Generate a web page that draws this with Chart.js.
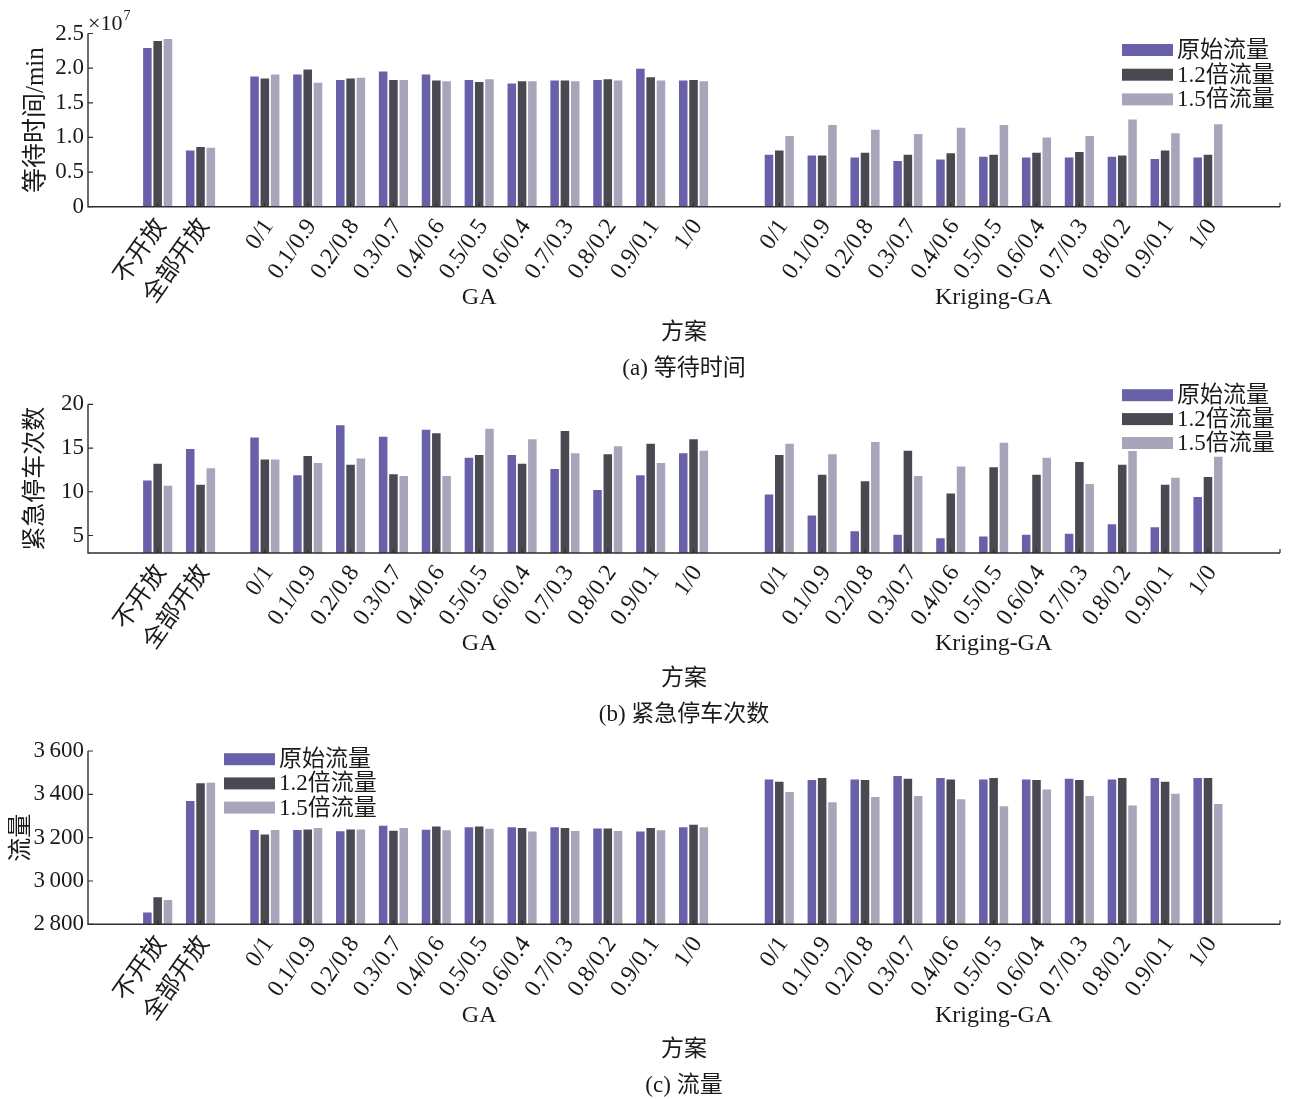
<!DOCTYPE html>
<html lang="zh">
<head>
<meta charset="utf-8">
<title>不同方案下的等待时间、紧急停车次数与流量</title>
<script src="https://cdn.jsdelivr.net/npm/chart.js@4.4.1/dist/chart.umd.min.js"></script>
<style>
  html, body { margin: 0; padding: 0; background: #fff; }
  #page { position: relative; width: 1289px; height: 1099px; overflow: hidden; background: #fff; }
  #page canvas { position: absolute; left: 0; }
</style>
</head>
<body>
<div id="page">
  <canvas id="chartWait"></canvas>
  <canvas id="chartStops"></canvas>
  <canvas id="chartFlow"></canvas>
</div>
<script>
// ---- categories ----
const baselineSchemes = ['不开放', '全部开放'];
const weightSchemes = ['0/1', '0.1/0.9', '0.2/0.8', '0.3/0.7', '0.4/0.6', '0.5/0.5',
                       '0.6/0.4', '0.7/0.3', '0.8/0.2', '0.9/0.1', '1/0'];
const methods = ['GA', 'Kriging-GA'];
const seriesNames = ['原始流量', '1.2倍流量', '1.5倍流量'];

// ---- values: 2 baselines, then the GA sweep, then the Kriging-GA sweep ----
// (a) waiting time, unit 10^7 min
const waitOriginal = [2.29, 0.81,
  1.88, 1.91, 1.83, 1.95, 1.91, 1.83, 1.78, 1.82, 1.83, 1.99, 1.82,
  0.75, 0.74, 0.71, 0.66, 0.68, 0.72, 0.71, 0.71, 0.72, 0.69, 0.71];
const waitX12 = [2.39, 0.86,
  1.85, 1.98, 1.85, 1.83, 1.82, 1.80, 1.81, 1.82, 1.84, 1.87, 1.83,
  0.81, 0.74, 0.78, 0.75, 0.77, 0.75, 0.78, 0.79, 0.74, 0.81, 0.75];
const waitX15 = [2.42, 0.85,
  1.91, 1.79, 1.86, 1.83, 1.81, 1.84, 1.81, 1.81, 1.82, 1.82, 1.81,
  1.02, 1.18, 1.11, 1.05, 1.14, 1.18, 1.00, 1.02, 1.26, 1.06, 1.19];

// (b) emergency stops
const stopOriginal = [11.3, 14.9,
  16.2, 11.9, 17.6, 16.3, 17.1, 13.9, 14.2, 12.6, 10.2, 11.9, 14.4,
  9.7, 7.3, 5.5, 5.1, 4.7, 4.9, 5.1, 5.2, 6.3, 5.95, 9.4];
const stopX12 = [13.2, 10.8,
  13.7, 14.1, 13.1, 12.0, 16.7, 14.2, 13.2, 16.95, 14.3, 15.5, 16.0,
  14.2, 11.95, 11.2, 14.7, 9.8, 12.8, 11.95, 13.4, 13.1, 10.8, 11.7];
const stopX15 = [10.7, 12.7,
  13.7, 13.3, 13.8, 11.8, 11.8, 17.2, 16.0, 14.4, 15.2, 13.3, 14.7,
  15.5, 14.3, 15.7, 11.8, 12.9, 15.6, 13.9, 10.9, 14.7, 11.6, 14.0];

// (c) flow
const flowOriginal = [2854, 3369,
  3235, 3235, 3229, 3255, 3237, 3248, 3248, 3248, 3242, 3228, 3248,
  3469, 3466, 3469, 3485, 3475, 3469, 3469, 3472, 3469, 3475, 3475];
const flowX12 = [2925, 3451,
  3215, 3238, 3238, 3232, 3252, 3252, 3245, 3245, 3242, 3245, 3260,
  3458, 3475, 3466, 3472, 3469, 3475, 3466, 3466, 3475, 3458, 3475];
const flowX15 = [2912, 3454,
  3235, 3245, 3238, 3245, 3234, 3241, 3228, 3231, 3231, 3234, 3248,
  3411, 3363, 3388, 3392, 3377, 3345, 3422, 3392, 3348, 3403, 3355];

// ---- value-axis ticks ----
const waitTicks = [0, 0.5, 1.0, 1.5, 2.0, 2.5];
const stopTicks = [5, 10, 15, 20];
const flowTicks = [2800, 3000, 3200, 3400, 3600];

// ---- styling ----
const FONT = "'Liberation Serif', 'Noto Sans CJK SC', serif";
const TEXT = '#1a1a1a';
const AXIS = '#2e2e2e';
const seriesColors = ['#6861a9', '#4a4952', '#a8a5ba'];
const PLOT_LEFT = 88;
const PLOT_RIGHT = 1280;
const X_MIN = -0.625;
const X_MAX = 27.18;

// category slots along x: baseline pair, wider gap, GA sweep, wider gap, Kriging-GA sweep
const GAP_AFTER_BASELINES = 1.5;
const GAP_BETWEEN_METHODS = 2;
const xLabels = [...baselineSchemes];
const xPositions = baselineSchemes.map((_, i) => 1 + i);
const methodCenters = [];
let slot = baselineSchemes.length + GAP_AFTER_BASELINES;
methods.forEach(() => {
  weightSchemes.forEach((w, i) => { xLabels.push(w); xPositions.push(slot + i); });
  methodCenters.push(slot + (weightSchemes.length - 1) / 2);
  slot += weightSchemes.length - 1 + GAP_BETWEEN_METHODS;
});

// axes, inward tick marks, group labels, titles and legend
const decor = {
  id: 'decor',
  afterDraw(chart, _args, o) {
    const { ctx, chartArea: ca } = chart;
    const xs = chart.scales.x, ys = chart.scales.y;
    ctx.save();
    ctx.strokeStyle = AXIS;
    ctx.lineWidth = 1.4;
    ctx.beginPath();
    ctx.moveTo(ca.left, ca.top);
    ctx.lineTo(ca.left, ca.bottom);
    ctx.lineTo(ca.right, ca.bottom);
    ctx.stroke();

    ctx.lineWidth = 1.2;
    ctx.beginPath();
    xs.ticks.forEach(t => {
      const px = xs.getPixelForValue(t.value);
      ctx.moveTo(px, ca.bottom); ctx.lineTo(px, ca.bottom - 4);
    });
    ctx.moveTo(ca.right, ca.bottom); ctx.lineTo(ca.right, ca.bottom - 4);
    ys.ticks.forEach(t => {
      const py = ys.getPixelForValue(t.value);
      ctx.moveTo(ca.left, py); ctx.lineTo(ca.left + 5, py);
    });
    ctx.stroke();

    ctx.fillStyle = TEXT;
    ctx.textAlign = 'center';
    ctx.textBaseline = 'middle';
    ctx.font = `24px ${FONT}`;
    methods.forEach((m, k) => ctx.fillText(m, xs.getPixelForValue(methodCenters[k]), ca.bottom + 91));
    const midX = (ca.left + ca.right) / 2;
    ctx.font = `23px ${FONT}`;
    ctx.fillText('方案', midX, ca.bottom + 126);
    ctx.fillText(o.caption, midX, ca.bottom + 162);

    ctx.save();
    ctx.translate(o.yTitleX, (ca.top + ca.bottom) / 2);
    ctx.rotate(-Math.PI / 2);
    ctx.font = `${o.yTitleSize}px ${FONT}`;
    ctx.fillText(o.yTitle, 0, 0);
    ctx.restore();

    if (o.exponent) {
      ctx.textAlign = 'left';
      ctx.textBaseline = 'alphabetic';
      ctx.font = `22px ${FONT}`;
      const base = '×10';
      ctx.fillText(base, ca.left, ca.top - 4);
      const w = ctx.measureText(base).width;
      ctx.font = `14px ${FONT}`;
      ctx.fillText(o.exponent, ca.left + w + 1, ca.top - 14);
    }

    const L = o.legend;
    ctx.fillStyle = '#fff';
    ctx.fillRect(L.x - 3, L.y - 13, 160, L.step * 2 + 21);
    ctx.font = `23px ${FONT}`;
    ctx.textAlign = 'left';
    ctx.textBaseline = 'middle';
    chart.data.datasets.forEach((ds, i) => {
      const cy = L.y + i * L.step;
      ctx.fillStyle = ds.backgroundColor;
      ctx.fillRect(L.x, cy - 6, 51, 12);
      ctx.fillStyle = TEXT;
      ctx.fillText(ds.label, L.x + 55, cy + 1);
    });
    ctx.restore();
  }
};

const fmtWait = v => (v === 0 ? '0' : v.toFixed(1));
const fmtStops = v => String(v);
const fmtFlow = v => `${Math.floor(v / 1000)}\u2009${String(v % 1000).padStart(3, '0')}`;

// page coordinates of each panel
const panels = [
  { canvas: 'chartWait', top: 0, height: 385, plotTop: 33.5, plotBottom: 206.7,
    yMin: 0, yMax: 2.5, yTicks: waitTicks, yFormat: fmtWait,
    series: [waitOriginal, waitX12, waitX15],
    yTitle: '等待时间/min', yTitleX: 36, yTitleSize: 25, caption: '(a) 等待时间', exponent: '7',
    legend: { x: 1122, y: 50, step: 24.7 } },
  { canvas: 'chartStops', top: 372, height: 363, plotTop: 404.3, plotBottom: 553,
    yMin: 3, yMax: 20, yTicks: stopTicks, yFormat: fmtStops,
    series: [stopOriginal, stopX12, stopX15],
    yTitle: '紧急停车次数', yTitleX: 36, yTitleSize: 24, caption: '(b) 紧急停车次数', exponent: null,
    legend: { x: 1122, y: 395.2, step: 23.9 } },
  { canvas: 'chartFlow', top: 725, height: 374, plotTop: 751, plotBottom: 924.3,
    yMin: 2800, yMax: 3600, yTicks: flowTicks, yFormat: fmtFlow,
    series: [flowOriginal, flowX12, flowX15],
    yTitle: '流量', yTitleX: 22, yTitleSize: 24, caption: '(c) 流量', exponent: null,
    legend: { x: 224, y: 759.2, step: 24.2 } }
];

panels.forEach(p => {
  const canvas = document.getElementById(p.canvas);
  canvas.width = 1289;
  canvas.height = p.height;
  canvas.style.top = p.top + 'px';
  const areaTop = p.plotTop - p.top;
  const areaBottom = p.plotBottom - p.top;
  new Chart(canvas, {
    type: 'bar',
    data: {
      datasets: p.series.map((vals, i) => ({
        label: seriesNames[i],
        data: vals.map((v, j) => ({ x: xPositions[j], y: v })),
        backgroundColor: seriesColors[i],
        borderWidth: 0,
        categoryPercentage: 0.72,
        barPercentage: 0.83
      }))
    },
    options: {
      responsive: false,
      animation: false,
      devicePixelRatio: 1,
      events: [],
      layout: { padding: { top: areaTop, left: 0, right: 1289 - PLOT_RIGHT, bottom: 0 } },
      plugins: {
        legend: { display: false },
        tooltip: { enabled: false },
        decor: {
          caption: p.caption, yTitle: p.yTitle, yTitleX: p.yTitleX, yTitleSize: p.yTitleSize,
          exponent: p.exponent,
          legend: { x: p.legend.x, y: p.legend.y - p.top, step: p.legend.step }
        }
      },
      scales: {
        x: {
          type: 'linear', min: X_MIN, max: X_MAX, offset: false,
          grid: { display: false, drawTicks: false, offset: false },
          border: { display: false },
          afterBuildTicks: s => { s.ticks = xPositions.map(v => ({ value: v })); },
          afterFit: s => { s.height = p.height - areaBottom; },
          ticks: {
            autoSkip: false, minRotation: 55, maxRotation: 55, padding: 7, labelOffset: 4,
            color: TEXT, font: { family: FONT, size: 24 },
            callback: (v, i) => xLabels[i]
          }
        },
        y: {
          min: p.yMin, max: p.yMax,
          grid: { display: false, drawTicks: false },
          border: { display: false },
          afterBuildTicks: s => { s.ticks = p.yTicks.map(v => ({ value: v })); },
          afterFit: s => { s.width = PLOT_LEFT; },
          ticks: { padding: 4, color: TEXT, font: { family: FONT, size: 23 }, callback: p.yFormat }
        }
      }
    },
    plugins: [decor]
  });
});
</script>
</body>
</html>
